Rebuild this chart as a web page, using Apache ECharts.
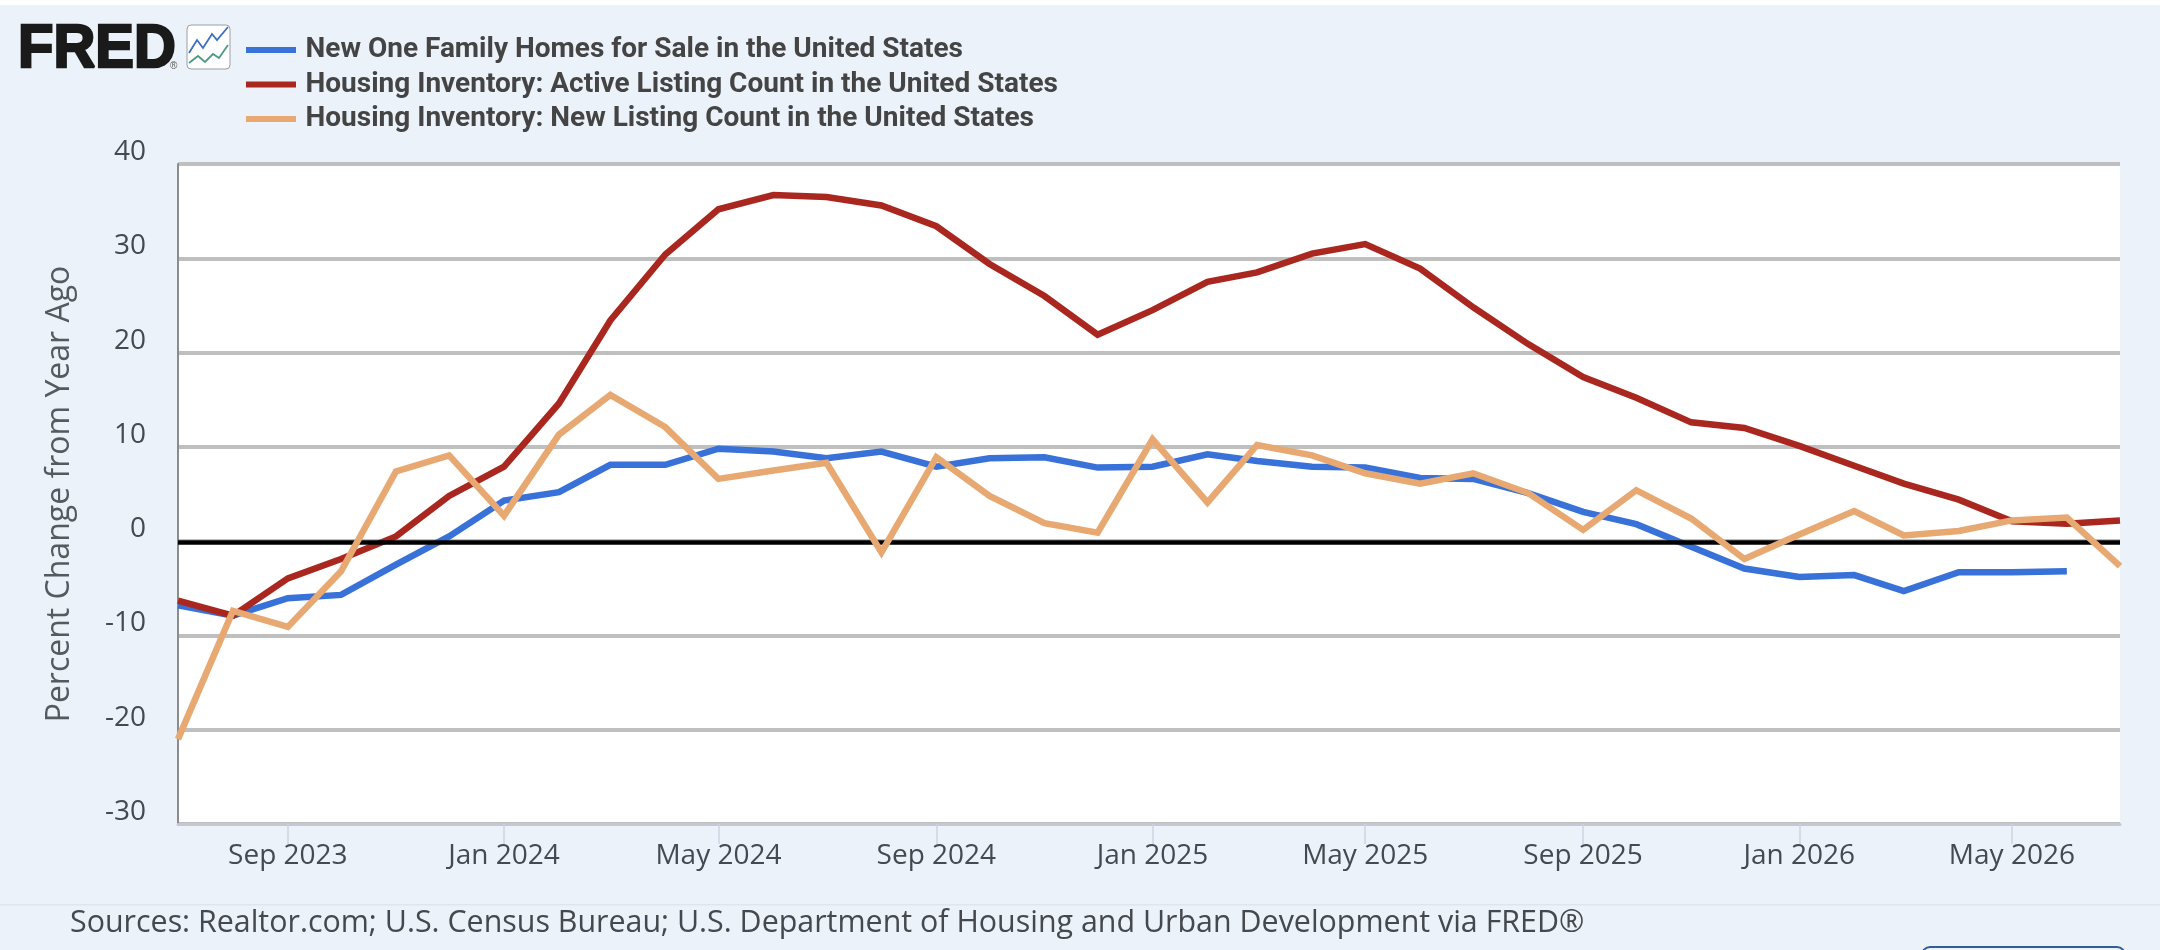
<!DOCTYPE html>
<html><head><meta charset="utf-8">
<style>html,body{margin:0;padding:0;background:#ebf2fa}#c{width:2160px;height:950px}</style>
<script src="https://cdn.jsdelivr.net/npm/echarts@6/dist/echarts.min.js"></script>
</head><body><div id="c"></div>
<script>
const months=['2023-07','2023-08','2023-09','2023-10','2023-11','2023-12','2024-01','2024-02','2024-03','2024-04','2024-05','2024-06','2024-07','2024-08','2024-09','2024-10','2024-11','2024-12','2025-01','2025-02','2025-03','2025-04','2025-05','2025-06','2025-07','2025-08','2025-09','2025-10','2025-11','2025-12','2026-01','2026-02','2026-03','2026-04','2026-05','2026-06','2026-07'];
const newHomes=[-6.8,-7.9,-6.05,-5.7,-2.5,0.5,4.3,5.2,8.1,8.1,9.8,9.5,8.8,9.5,7.9,8.8,8.9,7.8,7.9,9.2,8.5,7.9,7.8,6.7,6.6,5.1,3.1,1.8,-0.6,-2.9,-3.8,-3.6,-5.3,-3.3,-3.3,-3.2,null];
const activeListings=[-6.3,-7.9,-3.95,-1.9,0.5,4.8,7.9,14.6,23.4,30.4,35.2,36.7,36.5,35.6,33.4,29.4,26,21.9,24.5,27.5,28.5,30.5,31.5,28.9,24.8,20.9,17.4,15.2,12.6,12,10.1,8,6.1,4.4,2.1,1.85,2.2];
const newListings=[-21,-7.4,-9.1,-3.2,7.4,9.1,2.7,11.3,15.5,12.1,6.6,7.5,8.3,-1.2,8.9,4.8,1.9,0.9,10.8,4.1,10.2,9.1,7.2,6.1,7.2,5.1,1.2,5.4,2.4,-1.9,0.7,3.2,0.6,1.07,2.2,2.5,-2.65];
const tickMonths=['2023-09','2024-01','2024-05','2024-09','2025-01','2025-05','2025-09','2026-01','2026-05'];
const seriesNames=['New One Family Homes for Sale in the United States','Housing Inventory: Active Listing Count in the United States','Housing Inventory: New Listing Count in the United States'];
const seriesColors=['#3871d8','#a9271f','#e8a871'];
const yTitle='Percent Change from Year Ago';
const sourceText='Sources: Realtor.com; U.S. Census Bureau; U.S. Department of Housing and Urban Development via FRED®';

const MN=['Jan','Feb','Mar','Apr','May','Jun','Jul','Aug','Sep','Oct','Nov','Dec'];
const ts=m=>{const [y,mo]=m.split('-').map(Number);return Date.UTC(y,mo-1,1);};
const pairs=a=>a.map((v,i)=>[ts(months[i]),v]);
const font='"Open Sans"';
const tickVals=tickMonths.map(ts);

const chart=echarts.init(document.getElementById('c'),null,{renderer:'canvas',width:2160,height:950});
const mk=(i,vals,extra)=>Object.assign({name:seriesNames[i],type:'line',data:pairs(vals),showSymbol:false,symbol:'none',
  connectNulls:false,lineStyle:{color:seriesColors[i],width:6.5,join:'miter',cap:'butt'},itemStyle:{color:seriesColors[i]},z:3+i,silent:true},extra||{});
chart.setOption({
  animation:false,backgroundColor:'#ebf2fa',
  grid:{left:178,right:40,top:164,bottom:126,show:true,backgroundColor:'#ffffff',borderWidth:0},
  legend:{show:true,orient:'vertical',left:241,top:31,itemWidth:50,itemHeight:6,itemGap:6.5,icon:'rect',selectedMode:false,
    data:seriesNames.map((n,i)=>({name:n,itemStyle:{color:seriesColors[i]}})),
    textStyle:{fontFamily:'Roboto',fontWeight:'bold',fontSize:28,color:'#444444',padding:[0,0,0,4.5],lineHeight:25}},
  xAxis:{type:'value',min:ts(months[0]),max:ts(months[months.length-1]),scale:true,
    axisLine:{show:true,onZero:false,lineStyle:{color:'#c5c7d2',width:3}},
    axisTick:{show:true,length:20,customValues:tickVals,lineStyle:{color:'#cdd3e3',width:1.5}},
    splitLine:{show:false},minorTick:{show:false},
    axisLabel:{customValues:tickVals,margin:18,fontFamily:font,fontSize:28,color:'#444a50',hideOverlap:false,
      formatter:v=>{const d=new Date(v);return MN[d.getUTCMonth()]+' '+d.getUTCFullYear();}}},
  yAxis:{type:'value',min:-30,max:40,interval:10,
    name:yTitle,nameLocation:'middle',nameRotate:90,nameGap:102,
    nameTextStyle:{fontFamily:font,fontSize:32,color:'#555a5f'},
    axisLine:{show:true,lineStyle:{color:'#8c8c8c',width:2}},axisTick:{show:false},
    splitLine:{show:true,lineStyle:{color:'#bfbfbf',width:3.8}},
    axisLabel:{margin:32,fontFamily:font,fontSize:28,color:'#444a50',verticalAlign:'bottom',lineHeight:24}},
  series:[mk(0,newHomes),mk(1,activeListings),mk(2,newListings,{
    markLine:{silent:true,symbol:'none',label:{show:false},lineStyle:{color:'#000000',width:4.5,type:'solid'},data:[{yAxis:-0.15}]}})],
  graphic:[
    {type:'rect',silent:true,shape:{x:0,y:0,width:2160,height:5},style:{fill:'#ffffff'}},
    {type:'rect',silent:true,shape:{x:0,y:904,width:2160,height:1.5},style:{fill:'#dfe5ec'}},
    {type:'text',silent:true,x:70,y:923,style:{text:sourceText,fontFamily:font,fontSize:30.4,fill:'#45494e',verticalAlign:'middle'}},
    {type:'text',silent:true,x:18,y:50,scaleX:0.95,style:{text:'FRED',fontFamily:'"Liberation Sans"',fontWeight:'bold',fontSize:61,fill:'#1a1a1a',stroke:'#1a1a1a',lineWidth:2.5,verticalAlign:'middle'}},
    {type:'text',silent:true,x:170,y:66,style:{text:'®',fontFamily:'"Liberation Sans"',fontSize:10,fill:'#555',verticalAlign:'middle'}},
    {type:'rect',silent:true,shape:{x:187,y:25,width:43,height:44,r:4},style:{fill:'#ffffff',stroke:'#9aa0a6',lineWidth:1}},
    {type:'polyline',silent:true,shape:{points:[[189,53],[197,40],[203,48],[212,34],[217,40],[228,27]]},style:{fill:'none',stroke:'#3a6fc4',lineWidth:1.8}},
    {type:'polyline',silent:true,shape:{points:[[189,63],[198,56],[205,62],[213,54],[219,58],[228,45]]},style:{fill:'none',stroke:'#4c9a84',lineWidth:1.8}},
    {type:'rect',silent:true,shape:{x:1922,y:947,width:203,height:20,r:8},style:{fill:'none',stroke:'#2f5f95',lineWidth:2}}
  ]
});
</script></body></html>
